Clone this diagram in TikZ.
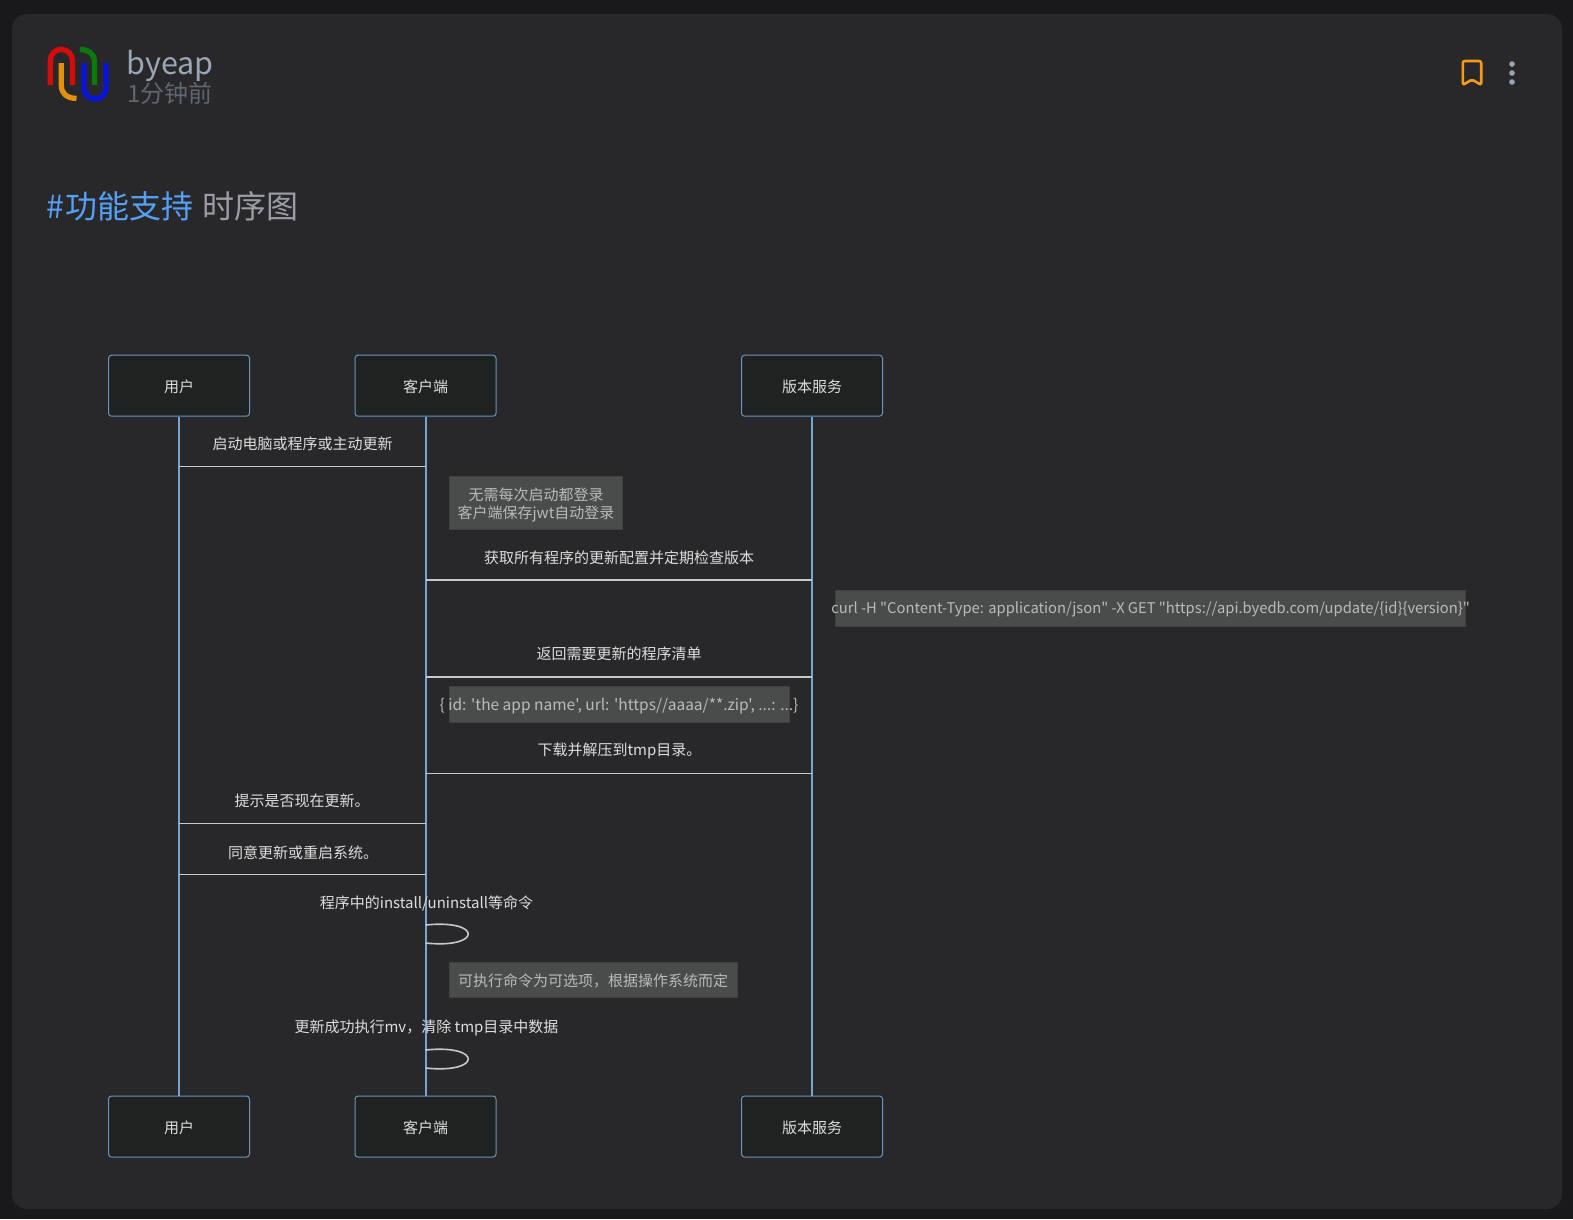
\documentclass[tikz,border=0pt]{standalone}
\usepackage{fontspec}
\usepackage{xcolor}
\usetikzlibrary{positioning,calc}
\newfontfamily\cjkfont{Noto Sans CJK SC}
\definecolor{pagebg}{HTML}{19191B}
\definecolor{cardbg}{HTML}{28282B}
\definecolor{actorbg}{HTML}{202222}
\definecolor{actorline}{HTML}{6A94BB}
\definecolor{lifeline}{HTML}{7BA3CC}
\definecolor{msgline}{HTML}{C8C8C8}
\definecolor{msgtext}{HTML}{DDDDDD}
\definecolor{notebg}{HTML}{4A4B4B}
\definecolor{noteline}{HTML}{404141}
\definecolor{notetext}{HTML}{B8BBBD}
\definecolor{hashblue}{HTML}{55A0F5}
\definecolor{titlegrey}{HTML}{9A9DA3}
\definecolor{namegrey}{HTML}{9AA5B5}
\definecolor{timegrey}{HTML}{5F6670}
\definecolor{markorange}{HTML}{F39C12}
\definecolor{dotgrey}{HTML}{9CA3AF}
\definecolor{logored}{HTML}{D80B0B}
\definecolor{logoorange}{HTML}{E0920F}
\definecolor{logogreen}{HTML}{0A7A0A}
\definecolor{logoblue}{HTML}{0A14D8}

\begin{document}
\begin{tikzpicture}[x=1pt,y=-1pt,font=\cjkfont\fontsize{15}{18}\selectfont,
   actor/.style={draw=actorline,line width=1pt,fill=actorbg,rounded corners=3pt,
     minimum width=141pt,minimum height=61pt,inner sep=0pt,text=msgtext,
     text height=15pt,text depth=1.8pt},
   life/.style={draw=lifeline,line width=2pt},
   msg/.style={draw=msgline,line width=1.6pt},
   msglab/.style={text=msgtext,inner sep=0pt},
   note/.style={draw=noteline,line width=1pt,fill=notebg,inner sep=0pt,text=notetext,align=center},
   notelab/.style={text=notetext,inner sep=0pt,align=center},
   logo/.style={line width=5.3pt}]
\useasboundingbox (0,0) rectangle (1573,1219);
\fill[pagebg] (0,0) rectangle (1573,1219);
\fill[cardbg,rounded corners=15pt] (12,14) rectangle (1562,1209);

% header
\draw[logo,draw=logored] (50.3,85) -- (50.3,60.5) arc[start angle=180,end angle=360,radius=11.1] -- (72.5,85);
\draw[logo,draw=logoorange] (61.3,63) -- (61.3,85) .. controls (61.3,94) and (67,98) .. (76.5,98.5);
\draw[logo,draw=logogreen] (80,49.5) .. controls (88,49.5) and (94.5,53) .. (94.5,62) -- (94.5,85);
\draw[logo,draw=logoblue] (84,63) -- (84,88) arc[start angle=180,end angle=0,radius=11] -- (106,63);
\node[anchor=base west,inner sep=0pt,text=namegrey,font=\cjkfont\fontsize{30.5}{36}\selectfont] (author) at (126.5,74) {byeap};
\node[anchor=base west,inner sep=0pt,text=timegrey,font=\cjkfont\fontsize{24}{28}\selectfont] (stamp) at (127,102) {1分钟前};
\node[anchor=base west,inner sep=0pt,text=titlegrey,font=\cjkfont\fontsize{32}{36}\selectfont] (title) at (46,218) {{\color{hashblue}\#\hspace{2pt}功能支持}\hspace{1.5pt} 时序图};
\draw[draw=markorange,line width=2.6pt,rounded corners=2pt,line join=round] (1462.8,85) -- (1462.8,61) -- (1481.2,61) -- (1481.2,85) -- (1472,79.5) -- cycle;
\fill[dotgrey] (1512,64) circle (2.8) (1512,73) circle (2.8) (1512,82) circle (2.8);

% actors
\node[actor] (userTop) at (179,385.7) {用户};
\node[actor] (clientTop) at (425.5,385.7) {客户端};
\node[actor] (serverTop) at (812,385.7) {版本服务};
\node[actor] (userBot) at (179,1126.5) {用户};
\node[actor] (clientBot) at (425.5,1126.5) {客户端};
\node[actor] (serverBot) at (812,1126.5) {版本服务};
\draw[life] (userTop) -- (userBot);
\draw[life] (clientTop) -- (clientBot);
\draw[life] (serverTop) -- (serverBot);

% messages
\coordinate (startU) at (179,466.5);
\coordinate (startC) at (425.5,466.5);
\coordinate (fetchC) at (425.5,580);
\coordinate (fetchS) at (812,580);
\coordinate (listC) at (425.5,677);
\coordinate (listS) at (812,677);
\coordinate (unzipC) at (425.5,773.5);
\coordinate (unzipS) at (812,773.5);
\coordinate (askU) at (179,823.5);
\coordinate (askC) at (425.5,823.5);
\coordinate (okU) at (179,874.5);
\coordinate (okC) at (425.5,874.5);
\coordinate (cmdA) at (425.5,925);
\coordinate (cmdB) at (425.5,943);
\coordinate (mvA) at (425.5,1050);
\coordinate (mvB) at (425.5,1068);
\draw[msg] (startU) -- (startC);
\draw[msg] (fetchC) -- (fetchS);
\draw[msg] (listC) -- (listS);
\draw[msg] (unzipC) -- (unzipS);
\draw[msg] (askU) -- (askC);
\draw[msg] (okU) -- (okC);
\draw[msg] (cmdA) .. controls +(57,-6) and +(57,6) .. (cmdB);
\draw[msg] (mvA) .. controls +(57,-6) and +(57,6) .. (mvB);
\node[msglab] (startLab) at (302.5,444) {启动电脑或程序或主动更新};
\node[msglab] (fetchLab) at (619,558) {获取所有程序的更新配置并定期检查版本};
\node[msglab] (listLab) at (619,654) {返回需要更新的程序清单};
\node[msglab] (unzipLab) at (619.5,751) {下载并解压到tmp目录。};
\node[msglab] (askLab) at (302,800.5) {提示是否现在更新。};
\node[msglab] (okLab) at (303,853) {同意更新或重启系统。};
\node[msglab] (cmdLab) at (426.5,903.5) {程序中的install/uninstall等命令};
\node[msglab] (mvLab) at (426.5,1027.5) {更新成功执行mv，清除 tmp目录中数据};

% notes
\node[note,minimum width=173pt,minimum height=53pt] (noteLogin) at (535.5,502.5) {};
\node[notelab] (loginLab) at (536,504.5) {无需每次启动都登录\\客户端保存jwt自动登录};
\node[note,minimum width=630pt,minimum height=36pt] (noteCurl) at (1150.6,608) {};
\node[notelab,font=\cjkfont\fontsize{14.75}{18}\selectfont] (curlLab) at (1150.6,609.5) {curl -H "Content-Type: application/json" -X GET "https://api.byedb.com/update/\{id\}\{version\}"};
\node[note,minimum width=340pt,minimum height=36pt] (noteApp) at (619,704) {};
\node[notelab,font=\cjkfont\fontsize{15.5}{18}\selectfont] (appLab) at (619,706) {\{ id: 'the app name', url: 'https//aaaa/**.zip', ...: ...\}};
\node[note,minimum width=288pt,minimum height=35pt] (noteCmd) at (593,980.4) {可执行命令为可选项，根据操作系统而定};
\end{tikzpicture}
\end{document}
